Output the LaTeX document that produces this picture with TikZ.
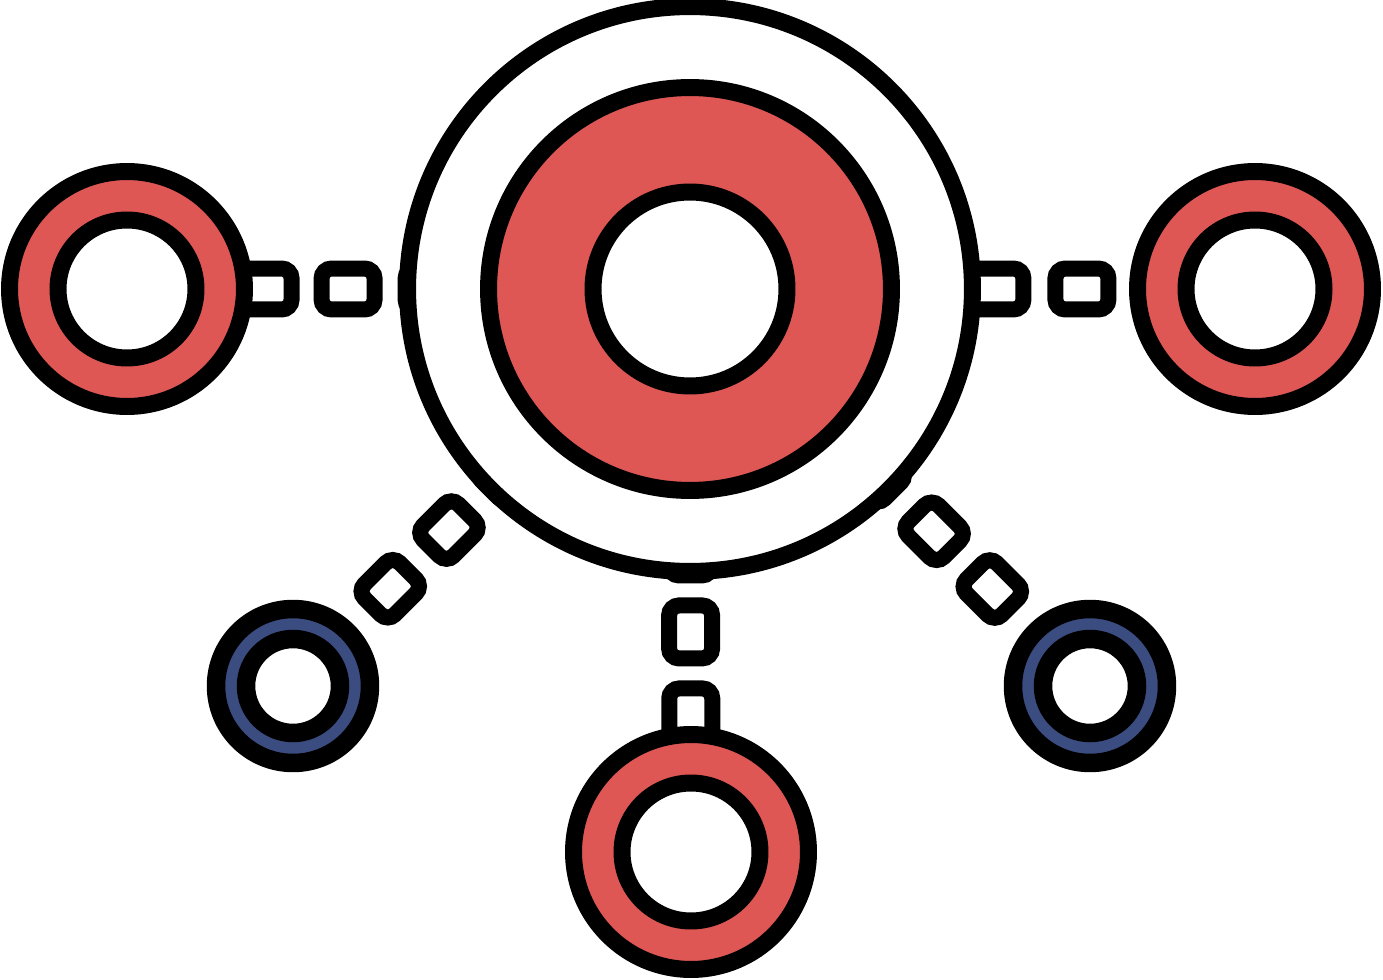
\documentclass[tikz,border=0pt]{standalone}
\usepackage{tikz}
\usetikzlibrary{positioning, calc}
\definecolor{ringred}{HTML}{DE5754}
\definecolor{ringblue}{HTML}{3B4C80}
\tikzset{ring/.style={circle, draw, line width=0.34cm, inner sep=0pt, minimum size=#1},
	dot ring/.style={circle, draw, line width=0.37cm, inner sep=0pt, minimum size=#1},
	link box/.style={rectangle, draw, fill=white, line width=0.32cm, rounded corners=0.2cm, inner sep=0pt, minimum width=1.06cm, minimum height=0.82cm},
	small box/.style={link box, minimum width=1.0cm, minimum height=0.86cm},}

\begin{document}
\begin{tikzpicture}[x=0.02cm, y=-0.02cm]
	\useasboundingbox (0,0) rectangle (1383,980);
	% Centres
	\coordinate (hub) at (690,289);
	\coordinate (west) at (127,289);
	\coordinate (east) at (1255,289);
	\coordinate (south) at (691,852);
	\coordinate (sw) at (293,686);
	\coordinate (se) at (1090,686);
	% Links
	\foreach \d [count=\i] in {5.16,6.84,8.5}
		\node[link box] (w\i) at ($(hub)!\d cm!(west)$) {};
	\foreach \d [count=\i] in {6.14,7.84}
		\node[link box] (e\i) at ($(hub)!\d cm!(east)$) {};
	\foreach \d [count=\i] in {5.2,6.86,8.52}
		\node[link box, minimum height=0.86cm, rotate=90] (s\i) at ($(hub)!\d cm!(south)$) {};
	\foreach \d [count=\i] in {5.16,6.82,8.48}
		\node[small box, rotate=45] (sw\i) at ($(hub)!\d cm!(sw)$) {};
	\foreach \d [count=\i] in {5.22,6.88,8.52}
		\node[small box, rotate=-45] (se\i) at ($(hub)!\d cm!(se)$) {};
	% Hub
	\node[ring=11.3cm, fill=white] (hub outer) at (hub) {};
	\node[ring=8.06cm, fill=ringred] (hub mid) at (hub) {};
	\node[ring=3.88cm, fill=white] (hub inner) at (hub) {};
	% Red leaves
	\foreach \n in {west, east, south} {
		\node[ring=4.7cm, fill=ringred] (\n outer) at (\n) {};
		\node[ring=2.76cm, fill=white] (\n inner) at (\n) {};
	}
	% Blue leaves
	\foreach \n in {sw, se} {
		\node[dot ring=3.08cm, fill=ringblue] (\n outer) at (\n) {};
		\node[dot ring=1.88cm, fill=white] (\n inner) at (\n) {};
	}
\end{tikzpicture}
\end{document}
